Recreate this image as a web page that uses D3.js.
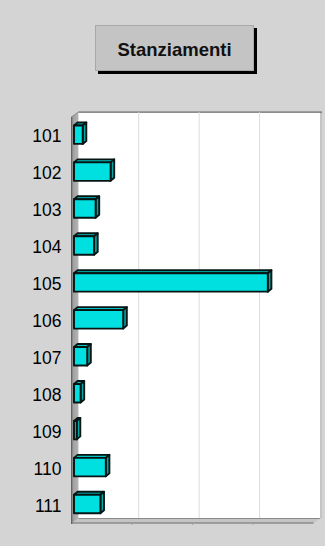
<!DOCTYPE html>
<html><head><meta charset="utf-8">
<script src="https://cdn.jsdelivr.net/npm/d3@7"></script>
<style>
html,body{margin:0;padding:0;background:#d4d4d4;}
svg{display:block;}
text{font-family:Arial,"Liberation Sans",sans-serif;}
</style></head>
<body>
<script>
const categories = ["101","102","103","104","105","106","107","108","109","110","111"];
const values = [0.145, 0.61, 0.36, 0.335, 3.23, 0.82, 0.22, 0.11, 0.045, 0.53, 0.44];
const gridTicks = [1, 2, 3];
const title = "Stanziamenti";

const W = 325, H = 546;
const svg = d3.select("body").append("svg").attr("width", W).attr("height", H);
svg.append("rect").attr("width", W).attr("height", H).attr("fill", "#d4d4d4");

// depth of the 3D box
const DX = 6.6, DY = 4.5;
const front = d3.scaleLinear().domain([0, 4]).range([71.7, 313.5]);
const back = d3.scaleLinear().domain([0, 4]).range([78.3, 320]);
const y = d3.scaleBand().domain(categories).range([116.7, 523]).paddingInner(0.5).paddingOuter(0.25);
const yTop = 116.7, yBot = 523;

// back plane (white)
svg.append("rect").attr("x", back(0)).attr("y", yTop - DY).attr("width", back(4) - back(0)).attr("height", yBot - yTop)
  .attr("fill", "#ffffff");
// right edge strip
svg.append("rect").attr("x", back(4)).attr("y", yTop - DY).attr("width", 2).attr("height", yBot - yTop)
  .attr("fill", "#c4c4c4");
// top border
svg.append("line").attr("x1", back(0)).attr("x2", back(4) + 2).attr("y1", yTop - DY).attr("y2", yTop - DY)
  .attr("stroke", "#6a6a6a").attr("stroke-width", 1.2);

// gridlines
svg.selectAll("line.grid").data(gridTicks).join("line").attr("class", "grid")
  .attr("x1", d => back(d)).attr("x2", d => back(d))
  .attr("y1", yTop - DY).attr("y2", yBot - DY)
  .attr("stroke", "#dcdcdc").attr("stroke-width", 1);

// floor
svg.append("path")
  .attr("d", `M${front(0)},${yBot} L${back(0)},${yBot - DY} L${back(4)},${yBot - DY} L${front(4)},${yBot} Z`)
  .attr("fill", "#c4c4c4");
svg.append("line").attr("x1", back(0)).attr("x2", back(4)).attr("y1", yBot - DY).attr("y2", yBot - DY)
  .attr("stroke", "#8a8a8a").attr("stroke-width", 1);
svg.append("line").attr("x1", front(0)).attr("x2", front(4)).attr("y1", yBot).attr("y2", yBot)
  .attr("stroke", "#8c8c8c").attr("stroke-width", 1.5);
svg.selectAll("line.ftick").data(gridTicks).join("line").attr("class", "ftick")
  .attr("x1", d => front(d)).attr("x2", d => front(d)).attr("y1", yBot).attr("y2", yBot + 2)
  .attr("stroke", "#a0a0a0");

// wall
const wallGrad = svg.append("defs").append("linearGradient").attr("id", "wg").attr("x1", 0).attr("x2", 1);
wallGrad.append("stop").attr("offset", 0).attr("stop-color", "#9c9c9c");
wallGrad.append("stop").attr("offset", 1).attr("stop-color", "#b4b4b4");
svg.append("path")
  .attr("d", `M${front(0)},${yTop} L${back(0)},${yTop - DY} L${back(0)},${yBot - DY} L${front(0)},${yBot} Z`)
  .attr("fill", "url(#wg)");
svg.append("line").attr("x1", front(0)).attr("x2", front(0)).attr("y1", yTop).attr("y2", yBot + 1)
  .attr("stroke", "#5a5a5a").attr("stroke-width", 1.2);
svg.append("line").attr("x1", front(0)).attr("x2", back(0)).attr("y1", yTop).attr("y2", yTop - DY)
  .attr("stroke", "#8a8a8a").attr("stroke-width", 1);

// bars
const bx = d3.scaleLinear().domain([0, 4]).range([74, 314]);
const bdx = 3.6, bdy = 3;
const g = svg.append("g");
categories.forEach((c, i) => {
  const v = values[i];
  const x0 = bx(0), x1 = bx(v);
  const y0 = y(c) - 0.5, h = y.bandwidth();
  const gg = g.append("g").attr("stroke", "#061414").attr("stroke-width", 1.9).attr("stroke-linejoin", "round");
  // top face
  gg.append("path").attr("d", `M${x0},${y0} L${x0 + bdx},${y0 - bdy} L${x1 + bdx},${y0 - bdy} L${x1},${y0} Z`)
    .attr("fill", "#00c4c4");
  // side face
  gg.append("path").attr("d", `M${x1},${y0} L${x1 + bdx},${y0 - bdy} L${x1 + bdx},${y0 + h - bdy} L${x1},${y0 + h} Z`)
    .attr("fill", "#00a8a8");
  // front face
  gg.append("rect").attr("x", x0).attr("y", y0).attr("width", Math.max(0.5, x1 - x0)).attr("height", h)
    .attr("fill", "#00e0e0");
});

// category labels
const axis = d3.axisLeft(y).tickSize(0).tickPadding(0);
const ag = svg.append("g").attr("transform", "translate(61.5,1.5)").call(axis);
ag.select(".domain").remove();
ag.selectAll("text").attr("font-size", 17.5).attr("fill", "#000").attr("font-family", "Arial, 'Liberation Sans', sans-serif");

// title box
svg.append("rect").attr("x", 98).attr("y", 28).attr("width", 159).attr("height", 46).attr("fill", "#000");
svg.append("rect").attr("x", 95.5).attr("y", 25.5).attr("width", 158).attr("height", 45)
  .attr("fill", "#c4c4c4").attr("stroke", "#a8a8a8").attr("stroke-width", 1);
svg.append("text").attr("x", 174.5).attr("y", 55.5).attr("text-anchor", "middle")
  .attr("font-size", 18.5).attr("font-weight", "bold").attr("fill", "#111").text(title);
</script>
</body></html>
